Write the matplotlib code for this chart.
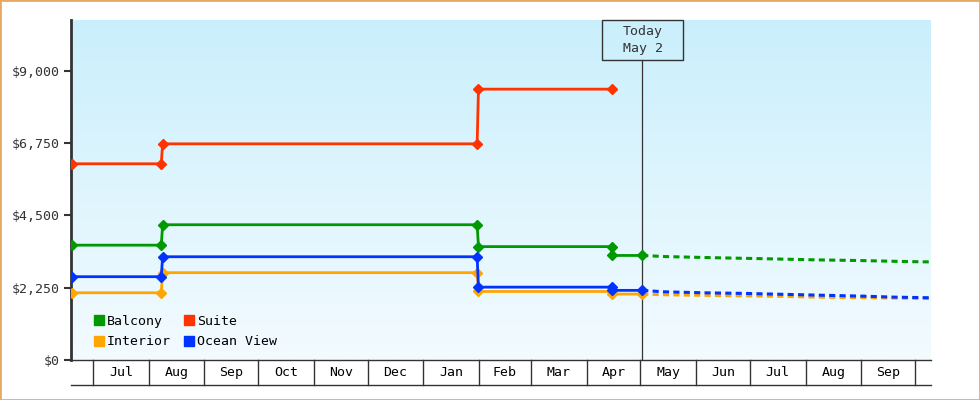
import matplotlib
matplotlib.use('Agg')
import matplotlib.pyplot as plt
import matplotlib.dates as mdates
import matplotlib.transforms as mtransforms
from matplotlib.lines import Line2D
from matplotlib.patches import Rectangle
import numpy as np
import pandas as pd

# price history (step changes)
balcony_dates = ['2023-06-19 00:00', '2023-08-08 00:00', '2023-08-08 18:00', '2024-01-31 00:00', '2024-01-31 18:00', '2024-04-15 00:00', '2024-04-15 00:00', '2024-05-02 00:00']
balcony_prices = [3570, 3570, 4205, 4205, 3525, 3525, 3250, 3250]

suite_dates = ['2023-06-19 00:00', '2023-08-08 00:00', '2023-08-08 18:00', '2024-01-31 00:00', '2024-01-31 18:00', '2024-04-15 00:00']
suite_prices = [6100, 6100, 6720, 6720, 8420, 8420]

interior_dates = ['2023-06-19 00:00', '2023-08-08 00:00', '2023-08-08 18:00', '2024-01-31 00:00', '2024-01-31 18:00', '2024-04-15 00:00', '2024-04-15 00:00', '2024-05-02 00:00']
interior_prices = [2090, 2090, 2715, 2715, 2130, 2130, 2050, 2050]

ocean_dates = ['2023-06-19 00:00', '2023-08-08 00:00', '2023-08-08 18:00', '2024-01-31 00:00', '2024-01-31 18:00', '2024-04-15 00:00', '2024-04-15 00:00', '2024-05-02 00:00']
ocean_prices = [2590, 2590, 3210, 3210, 2265, 2265, 2165, 2165]

# projections after today
balcony_proj_dates = ['2024-05-02', '2024-05-15', '2024-06-11', '2024-07-08', '2024-08-05', '2024-09-02', '2024-09-26', '2024-10-09']
balcony_proj = [3250, 3215, 3180, 3150, 3115, 3090, 3060, 3050]

ocean_proj_dates = ['2024-05-02', '2024-05-14', '2024-06-05', '2024-06-28', '2024-07-21', '2024-08-13', '2024-09-02', '2024-09-19', '2024-10-09']
ocean_proj = [2165, 2120, 2090, 2070, 2040, 2010, 1985, 1955, 1935]
interior_proj = [2050, 2030, 2010, 1995, 1975, 1950, 1940, 1925, 1915]

today = '2024-05-02'
today_label = 'Today\nMay 2'
month_starts = pd.date_range('2023-07-01', '2024-10-01', freq='MS')
y_ticks = [0, 2250, 4500, 6750, 9000]

c_balcony = '#009900'
c_suite = '#ff3300'
c_interior = '#ffa500'
c_ocean = '#0033ff'
ink = '#333333'
font = {'family': 'DejaVu Sans Mono', 'size': 9.5}


def dn(dates):
	return mdates.date2num(pd.to_datetime(dates))


fig = plt.figure(figsize=(9.8, 4), dpi=100)
ax = fig.add_axes([71 / 980, 40 / 400, 860 / 980, 340 / 400])

x_left = dn(['2023-07-01'])[0] - 12.3
x_right = dn(['2024-10-01'])[0] + 8.9
y_max = 10570
ax.set_xlim(x_left, x_right)
ax.set_ylim(0, y_max)

# gradient background
top = np.array([202, 239, 252]) / 255
bot = np.array([243, 251, 255]) / 255
t = np.linspace(0, 1, 200)[:, None, None]
grad = top * (1 - t) + bot * t
ax.imshow(grad, extent=[x_left, x_right, 0, y_max], aspect='auto', zorder=0, interpolation='bilinear')

mk = dict(marker='D', markersize=5.3, lw=2)
ax.plot(dn(balcony_dates), balcony_prices, color=c_balcony, zorder=3, **mk)
ax.plot(dn(suite_dates), suite_prices, color=c_suite, zorder=3, **mk)
ax.plot(dn(interior_dates), interior_prices, color=c_interior, zorder=3, **mk)
ax.plot(dn(ocean_dates), ocean_prices, color=c_ocean, zorder=4, **mk)

dash = dict(lw=2.2, dashes=(2, 1.4), dash_capstyle='butt')
ax.plot(dn(balcony_proj_dates), balcony_proj, color=c_balcony, zorder=2, **dash)
ax.plot(dn(ocean_proj_dates), interior_proj, color=c_interior, zorder=2, **dash)
ax.plot(dn(ocean_proj_dates), ocean_proj, color=c_ocean, zorder=2, **dash)

# axes styling
for s in ['top', 'right']:
	ax.spines[s].set_visible(False)
ax.spines['left'].set_linewidth(2)
ax.spines['left'].set_color(ink)
ax.spines['bottom'].set_linewidth(1)
ax.spines['bottom'].set_color(ink)
ax.set_xticks([])
ax.set_yticks(y_ticks)
ax.set_yticklabels(['${:,}'.format(v) for v in y_ticks], fontdict=font, color=ink)
ax.tick_params(axis='y', length=5, width=1.5, color=ink, pad=3)

# month band below the plot
trans = mtransforms.blended_transform_factory(ax.transData, ax.transAxes)
band = -25 / 340
for m in dn(month_starts):
	ax.plot([m, m], [0, band], transform=trans, clip_on=False, color=ink, lw=1)
ax.plot([0, 1], [band, band], transform=ax.transAxes, clip_on=False, color=ink, lw=1)
mnum = dn(month_starts)
for a, b, d in zip(mnum[:-1], mnum[1:], month_starts[:-1]):
	ax.text((a + b) / 2, band / 2, d.strftime('%b'), transform=trans, ha='center', va='center',
		fontdict=font, color='black')

# today marker
tn = dn([today])[0]
box_h = 40 / 340
ax.plot([tn, tn], [0, 1 - box_h], transform=trans, color=ink, lw=0.9, zorder=1)
ax.add_patch(Rectangle((tn - 22.3, 1 - box_h), 45, box_h, transform=trans, fill=False,
	edgecolor=ink, lw=1, clip_on=False, zorder=5))
ax.text(tn + 0.3, 1 - box_h / 2, today_label, transform=trans, ha='center', va='center',
	fontdict=font, color=ink, linespacing=1.45)

# legend
handles = [Line2D([], [], marker='s', linestyle='none', markersize=7.5, color=c)
	for c in [c_balcony, c_interior, c_suite, c_ocean]]
ax.legend(handles, ['Balcony', 'Interior', 'Suite', 'Ocean View'], ncol=2, loc='lower left',
	bbox_to_anchor=(0.026, 0.034), frameon=False, prop=font, handlelength=0.8,
	handletextpad=0.2, columnspacing=1.0, labelspacing=0.58, borderaxespad=0, borderpad=0)

fig.add_artist(Rectangle((0, 0), 1, 1, transform=fig.transFigure, fill=False,
	edgecolor='#e8a964', lw=2))

fig.savefig('out.png', dpi=100)
